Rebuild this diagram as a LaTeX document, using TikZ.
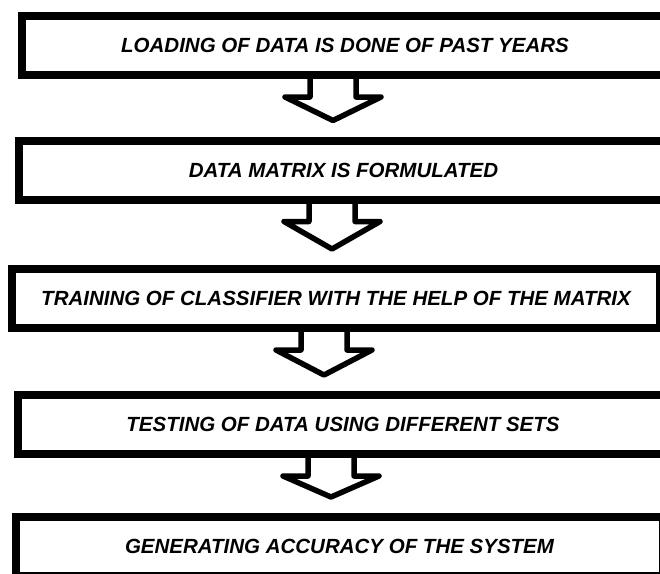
\documentclass[tikz,border=0pt]{standalone}
\usepackage{fontspec}
\setmainfont{Liberation Sans}
\usetikzlibrary{calc}
\tikzset{
  stepbox/.style={draw, line width=8pt, minimum height=59pt, inner sep=0pt, outer sep=0pt,
    font=\fontsize{20.5}{24}\selectfont\bfseries\itshape},
  arrowline/.style={line width=5.5pt, line join=round, line cap=round}
}
\def\openarrow(#1)(#2)(#3){\draw[arrowline] ($(#1.south -| #3,0)+(-23,0)$) -- ++(0,22) -- ++(-25,0) -- ($(#2.north -| #3,0)+(0,-20)$) -- ($(#1.south -| #3,0)+(48,22)$) -- ++(-25,0) -- ++(0,-22);}

\begin{document}
\begin{tikzpicture}[x=1pt, y=-1pt]
	%%%%% START %%%%%
	\useasboundingbox (0, 0) rectangle (660, 573);
	
	\node[stepbox, minimum width=646pt] (load) at (345, 45.5) {LOADING OF DATA IS DONE OF PAST YEARS};
	\node[stepbox, minimum width=649pt] (matrix) at (343.5, 170) {DATA MATRIX IS FORMULATED};
	\node[stepbox, minimum width=648pt] (train) at (336, 298.5) {TRAINING OF CLASSIFIER WITH THE HELP OF THE MATRIX};
	\node[stepbox, minimum width=650pt] (test) at (343, 424.5) {TESTING OF DATA USING DIFFERENT SETS};
	\node[stepbox, minimum width=647pt] (accuracy) at (339.5, 546.5) {GENERATING ACCURACY OF THE SYSTEM};
	
	\openarrow(load)(matrix)(333)
	\openarrow(matrix)(train)(332)
	\openarrow(train)(test)(324)
	\openarrow(test)(accuracy)(331)
	%%%%% END %%%%%
\end{tikzpicture}
\end{document}
